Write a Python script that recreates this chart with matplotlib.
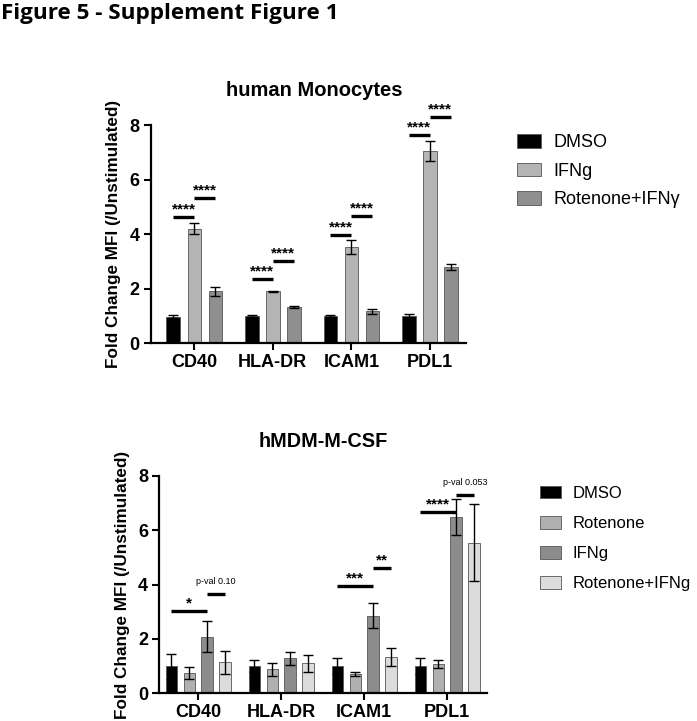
import matplotlib
matplotlib.use("Agg")
import matplotlib.pyplot as plt
import numpy as np
from matplotlib.patches import Patch

plt.rcParams['font.family'] = ['Liberation Sans', 'DejaVu Sans']

categories = ["CD40", "HLA-DR", "ICAM1", "PDL1"]

# Panel A: human Monocytes
mono_series = ["DMSO", "IFNg", "Rotenone+IFNγ"]
mono_means = {
    "DMSO": [0.98, 1.0, 1.0, 1.0],
    "IFNg": [4.2, 1.9, 3.53, 7.05],
    "Rotenone+IFNγ": [1.9, 1.33, 1.17, 2.8],
}
mono_err = {
    "DMSO": [0.05, 0.02, 0.03, 0.08],
    "IFNg": [0.2, 0.02, 0.26, 0.36],
    "Rotenone+IFNγ": [0.17, 0.02, 0.08, 0.1],
}
mono_colors = ["#000000", "#b4b4b4", "#8f8f8f"]
# (category index, from series, to series, y, label)
mono_sig = [
    (0, 0, 1, 4.64, "****"), (0, 1, 2, 5.31, "****"),
    (1, 0, 1, 2.34, "****"), (1, 1, 2, 3.03, "****"),
    (2, 0, 1, 3.97, "****"), (2, 1, 2, 4.66, "****"),
    (3, 0, 1, 7.62, "****"), (3, 1, 2, 8.29, "****"),
]

# Panel B: hMDM-M-CSF
mdm_series = ["DMSO", "Rotenone", "IFNg", "Rotenone+IFNg"]
mdm_means = {
    "DMSO": [1.0, 1.0, 1.0, 1.0],
    "Rotenone": [0.76, 0.88, 0.71, 1.07],
    "IFNg": [2.09, 1.29, 2.86, 6.48],
    "Rotenone+IFNg": [1.14, 1.1, 1.33, 5.55],
}
mdm_err = {
    "DMSO": [0.46, 0.22, 0.29, 0.29],
    "Rotenone": [0.22, 0.23, 0.08, 0.15],
    "IFNg": [0.56, 0.23, 0.45, 0.66],
    "Rotenone+IFNg": [0.43, 0.31, 0.33, 1.43],
}
mdm_colors = ["#000000", "#b0b0b0", "#8c8c8c", "#dcdcdc"]
mdm_sig = [
    (0, 0, 2, 3.03, "*"), (0, 2, 3, 3.66, "p-val 0.10"),
    (2, 0, 2, 3.95, "***"), (2, 2, 3, 4.60, "**"),
    (3, 0, 2, 6.67, "****"), (3, 2, 3, 7.31, "p-val 0.053"),
]

W, H = 697, 721
fig = plt.figure(figsize=(W / 100, H / 100), dpi=100)

fig.text(1 / W, 1 - 14 / H, "Figure 5 - Supplement Figure 1", fontsize=16.2,
         fontweight="bold", family=["Open Sans", "DejaVu Sans"], va="center",
         ha="left")


def panel(rect, title, title_xy, series, means, errs, colors, sig, spacing,
          width, xlim, leg_anchor, leg_fs, leg_labelspacing, title_fs):
    ax = fig.add_axes(rect)
    x = np.arange(len(categories))
    n = len(series)
    offsets = (np.arange(n) - (n - 1) / 2) * spacing
    handles = []
    for i, s in enumerate(series):
        ax.bar(x + offsets[i], means[s], width, color=colors[i],
               edgecolor="#555555", linewidth=0.6, zorder=2,
               yerr=errs[s], error_kw=dict(ecolor="black", elinewidth=1.0,
                                            capsize=3.5, capthick=1.0))
        handles.append(Patch(facecolor=colors[i], edgecolor="#555555",
                             linewidth=0.6, label=s))
    for (c, a, b, y, lab) in sig:
        x0 = x[c] + offsets[a]
        x1 = x[c] + offsets[b]
        ax.plot([x0, x1], [y, y], color="black", lw=2.4, solid_capstyle="butt",
                clip_on=False, zorder=3)
        if lab.startswith("p-val"):
            ax.text((x0 + x1) / 2, y + 0.3, lab, ha="center", va="bottom",
                    fontsize=6.5)
        else:
            ax.text((x0 + x1) / 2, y + 0.02, lab, ha="center", va="bottom",
                    fontsize=11, fontweight="bold")
    ax.set_ylim(0, 8)
    ax.set_xlim(*xlim)
    ax.set_yticks([0, 2, 4, 6, 8])
    ax.set_xticks(x)
    ax.set_xticklabels(categories)
    for lab in ax.get_xticklabels() + ax.get_yticklabels():
        lab.set_fontweight("bold")
        lab.set_fontsize(13)
    ax.tick_params(axis="both", width=1.5, length=5, pad=3)
    for sp in ["top", "right"]:
        ax.spines[sp].set_visible(False)
    for sp in ["left", "bottom"]:
        ax.spines[sp].set_linewidth(1.6)
    ax.set_ylabel("Fold Change MFI (/Unstimulated)", fontsize=12.3,
                  fontweight="bold", labelpad=6)
    fig.text(title_xy[0] / W, 1 - title_xy[1] / H, title, fontsize=title_fs,
             fontweight="bold", ha="center", va="center")
    fig.legend(handles=handles, loc="upper left", bbox_to_anchor=leg_anchor,
               frameon=False, fontsize=leg_fs, handlelength=1.3,
               handleheight=0.8, labelspacing=leg_labelspacing,
               handletextpad=0.7, borderaxespad=0)
    return ax


panel([150.7 / W, 1 - 343.3 / H, (466 - 150.7) / W, (343.3 - 125) / H],
      "human Monocytes", (314, 90.5), mono_series, mono_means, mono_err,
      mono_colors, mono_sig, 0.268, 0.172, (-0.555, 3.46),
      (510 / W, 1 - 127 / H), 13, 0.62, 14.5)

panel([159.3 / W, 1 - 693.3 / H, (486.7 - 159.3) / W, (693.3 - 476) / H],
      "hMDM-M-CSF", (323.5, 441.5), mdm_series, mdm_means, mdm_err,
      mdm_colors, mdm_sig, 0.216, 0.14, (-0.47, 3.475),
      (533 / W, 1 - 479 / H), 12, 0.9, 14.3)

fig.savefig("out.png", dpi=100)
